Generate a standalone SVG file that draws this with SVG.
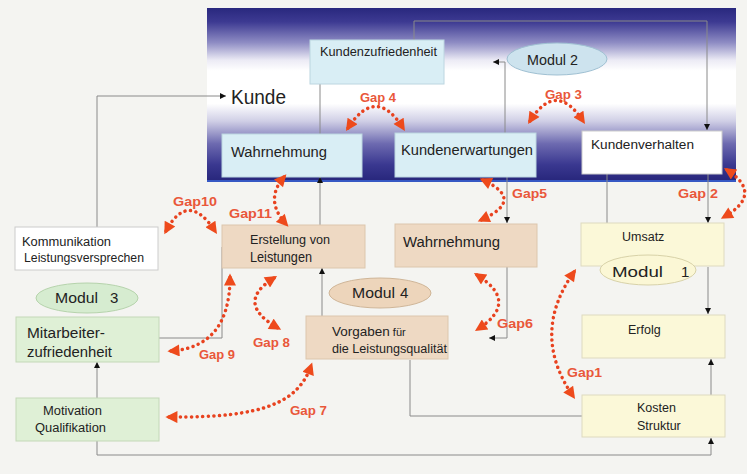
<svg xmlns="http://www.w3.org/2000/svg" width="747" height="474" viewBox="0 0 747 474">
<defs>
<linearGradient id="pg" x1="0" y1="0" x2="0" y2="1">
<stop offset="0" stop-color="#29287e"/>
<stop offset="0.08" stop-color="#3d3a92"/>
<stop offset="0.2" stop-color="#8f8dc4"/>
<stop offset="0.3" stop-color="#ecebf5"/>
<stop offset="0.36" stop-color="#ffffff"/>
<stop offset="0.55" stop-color="#ffffff"/>
<stop offset="0.65" stop-color="#d0cfe6"/>
<stop offset="0.78" stop-color="#6d6ab0"/>
<stop offset="0.9" stop-color="#3a3890"/>
<stop offset="1" stop-color="#26257a"/>
</linearGradient>
<marker id="a" viewBox="0 0 10 10" refX="10" refY="5" markerWidth="7" markerHeight="6" markerUnits="userSpaceOnUse" orient="auto">
<path d="M0,0 L10,5 L0,10 z" fill="#111"/>
</marker>
<marker id="g" viewBox="0 0 10 10" refX="7" refY="5" markerWidth="14" markerHeight="12" markerUnits="userSpaceOnUse" orient="auto-start-reverse">
<path d="M0,0 L10,5 L0,10 z" fill="#ee4a1c"/>
</marker>
<style>
text{font-family:"Liberation Sans",Arial,sans-serif;fill:#222;}
.s{font-size:12.5px;}
.m{font-size:14px;}
.mo{font-size:15px;}
.gl{font-size:13px;font-weight:bold;fill:#e9573a;}
.c{fill:none;stroke:#8a8a8a;stroke-width:1;}
.gp{fill:none;stroke:#e8421f;stroke-width:3.5;stroke-dasharray:0.1 5.5;stroke-linecap:round;}
.bl{fill:#d9eef5;stroke:#bcd6e0;stroke-width:1;}
.wh{fill:#ffffff;stroke:#cccccc;stroke-width:1;}
.tn{fill:#eed9c3;stroke:#dcc6ad;stroke-width:1;}
.yl{fill:#fbf8d8;stroke:#dedac0;stroke-width:1;}
.gr{fill:#dff0d6;stroke:#c3d8b8;stroke-width:1;}
</style>
</defs>
<rect x="0" y="0" width="747" height="474" fill="#f4f4f1"/>
<g id="panel">
<rect x="207" y="8" width="529" height="174" fill="url(#pg)"/>
<line x1="207" y1="181" x2="736" y2="181" stroke="#3658c4" stroke-width="2"/>
</g>
<g id="connectors">
<path class="c" d="M97,227 V96 H226" marker-end="url(#a)"/>
<path class="c" d="M320,134 V64 H335" marker-end="url(#a)"/>
<path class="c" d="M505,133 V62 H493" marker-end="url(#a)"/>
<path class="c" d="M414,40 V21 H707 V130" marker-end="url(#a)"/>
<path class="c" d="M320,225 V177" marker-end="url(#a)"/>
<path class="c" d="M630,153 H607 V246 H585" marker-end="url(#a)"/>
<path class="c" d="M708,174 V223" marker-end="url(#a)"/>
<path class="c" d="M507,177 V223" marker-end="url(#a)"/>
<path class="c" d="M507,267 V338 H489" marker-end="url(#a)"/>
<path class="c" d="M708,267 V314" marker-end="url(#a)"/>
<path class="c" d="M711,395 V359" marker-end="url(#a)"/>
<path class="c" d="M97,440 V455 H711 V438" marker-end="url(#a)"/>
<path class="c" d="M410,360 V416 H631" marker-end="url(#a)"/>
<path class="c" d="M97,398 V362" marker-end="url(#a)"/>
<path class="c" d="M159,338 H222 V247 H241" marker-end="url(#a)"/>
<path class="c" d="M333,338 H322 V268" marker-end="url(#a)"/>
</g>
<g id="n-kundenzufriedenheit"><rect class="bl" x="310" y="40" width="134" height="44"/><text class="s" x="320" y="56" textLength="117" lengthAdjust="spacingAndGlyphs">Kundenzufriedenheit</text></g>
<g id="n-modul2"><ellipse cx="557" cy="59" rx="50" ry="16" fill="#cde3ee" stroke="#9fc0d2"/><text class="mo" x="527" y="65" textLength="51" lengthAdjust="spacingAndGlyphs">Modul 2</text></g>
<g id="n-kunde"><text x="231" y="104" font-size="20" textLength="55" lengthAdjust="spacingAndGlyphs">Kunde</text></g>
<g id="n-wahrnehmung1"><rect class="bl" x="222" y="134" width="140" height="43"/><text class="m" x="231" y="157" textLength="96" lengthAdjust="spacingAndGlyphs">Wahrnehmung</text></g>
<g id="n-kundenerwartungen"><rect class="bl" x="395" y="133" width="141" height="44"/><text class="m" x="401" y="155" textLength="132" lengthAdjust="spacingAndGlyphs">Kundenerwartungen</text></g>
<g id="n-kundenverhalten"><rect class="wh" x="582" y="131" width="140" height="43"/><text x="591" y="149" font-size="12.5" textLength="103" lengthAdjust="spacingAndGlyphs">Kundenverhalten</text></g>
<g id="n-kommunikation"><rect class="wh" x="15" y="227" width="143" height="43"/><text class="s" x="22" y="246" textLength="89" lengthAdjust="spacingAndGlyphs">Kommunikation</text><text class="s" x="24" y="262" textLength="120" lengthAdjust="spacingAndGlyphs">Leistungsversprechen</text></g>
<g id="n-erstellung"><rect class="tn" x="222" y="225" width="143" height="43"/><text class="s" x="250" y="244" textLength="80" lengthAdjust="spacingAndGlyphs">Erstellung  von</text><text class="m" x="250" y="262" textLength="62" lengthAdjust="spacingAndGlyphs">Leistungen</text></g>
<g id="n-wahrnehmung2"><rect class="tn" x="395" y="224" width="142" height="43"/><text class="m" x="403" y="247" textLength="97" lengthAdjust="spacingAndGlyphs">Wahrnehmung</text></g>
<g id="n-umsatz"><rect class="yl" x="581" y="223" width="143" height="43"/><text class="s" x="622" y="241">Umsatz</text></g>
<g id="n-modul1"><ellipse cx="648" cy="270" rx="48" ry="15" fill="#fbf7d5" stroke="#d8d2a8"/><text class="mo" x="612" y="277" textLength="51" lengthAdjust="spacingAndGlyphs">Modul</text><text class="mo" x="681" y="277">1</text></g>
<g id="n-modul3"><ellipse cx="87" cy="298" rx="51" ry="15" fill="#d6ecd0" stroke="#b5d3ab"/><text class="mo" x="55" y="303" textLength="43" lengthAdjust="spacingAndGlyphs">Modul</text><text class="mo" x="110" y="303">3</text></g>
<g id="n-modul4"><ellipse cx="380" cy="293" rx="51" ry="15" fill="#edd5bb" stroke="#cfb597"/><text class="mo" x="352" y="298" textLength="43" lengthAdjust="spacingAndGlyphs">Modul</text><text class="mo" x="400" y="298">4</text></g>
<g id="n-mitarbeiter"><rect class="gr" x="16" y="317" width="143" height="45"/><text class="m" x="27" y="338" textLength="78" lengthAdjust="spacingAndGlyphs">Mitarbeiter-</text><text class="m" x="27" y="357" textLength="85" lengthAdjust="spacingAndGlyphs">zufriedenheit</text></g>
<g id="n-vorgaben"><rect class="tn" x="306" y="316" width="142" height="43"/><text x="332" y="336"><tspan font-size="13.5">Vorgaben</tspan><tspan font-size="11"> für</tspan></text><text class="s" x="332" y="353" textLength="115" lengthAdjust="spacingAndGlyphs">die Leistungsqualität</text></g>
<g id="n-erfolg"><rect class="yl" x="582" y="315" width="143" height="43"/><text class="s" x="628" y="334">Erfolg</text></g>
<g id="n-motivation"><rect class="gr" x="16" y="398" width="143" height="43"/><text class="s" x="43" y="415" textLength="59" lengthAdjust="spacingAndGlyphs">Motivation</text><text class="s" x="35" y="432" textLength="71" lengthAdjust="spacingAndGlyphs">Qualifikation</text></g>
<g id="n-kosten"><rect class="yl" x="582" y="395" width="143" height="42"/><text class="s" x="637" y="412">Kosten</text><text class="s" x="637" y="430">Struktur</text></g>
<g id="gaps">
<path class="gp" d="M348,128 Q376,85 403,128" marker-start="url(#g)" marker-end="url(#g)"/>
<path class="gp" d="M530,121 Q556,80 583,121" marker-start="url(#g)" marker-end="url(#g)"/>
<path class="gp" d="M166,231 Q188,190 215,231" marker-start="url(#g)" marker-end="url(#g)"/>
<path class="gp" d="M284,177 Q264,200 286,224" marker-start="url(#g)" marker-end="url(#g)"/>
<path class="gp" d="M483,180 Q526,200 481,220" marker-start="url(#g)" marker-end="url(#g)"/>
<path class="gp" d="M727,170 Q764,194 724,217" marker-start="url(#g)" marker-end="url(#g)"/>
<path class="gp" d="M477,275 Q520,302 478,329" marker-start="url(#g)" marker-end="url(#g)"/>
<path class="gp" d="M574,272 Q530,334 573,396" marker-start="url(#g)" marker-end="url(#g)"/>
<path class="gp" d="M274,278 Q234,303 278,328" marker-start="url(#g)" marker-end="url(#g)"/>
<path class="gp" d="M171,351 Q230,347 230,277" marker-start="url(#g)" marker-end="url(#g)"/>
<path class="gp" d="M169,417 C265,418 298,402 311,366" marker-start="url(#g)" marker-end="url(#g)"/>
</g>
<g id="gap-labels">
<text class="gl" x="173" y="206" textLength="44" lengthAdjust="spacingAndGlyphs">Gap10</text>
<text class="gl" x="229" y="218" textLength="43" lengthAdjust="spacingAndGlyphs">Gap11</text>
<text class="gl" x="360" y="102" textLength="36" lengthAdjust="spacingAndGlyphs">Gap 4</text>
<text class="gl" x="545" y="99" textLength="37" lengthAdjust="spacingAndGlyphs">Gap 3</text>
<text class="gl" x="512" y="198" textLength="35" lengthAdjust="spacingAndGlyphs">Gap5</text>
<text class="gl" x="678" y="198" textLength="40" lengthAdjust="spacingAndGlyphs">Gap 2</text>
<text class="gl" x="497" y="328" textLength="36" lengthAdjust="spacingAndGlyphs">Gap6</text>
<text class="gl" x="567" y="377" textLength="35" lengthAdjust="spacingAndGlyphs">Gap1</text>
<text class="gl" x="253" y="347" textLength="37" lengthAdjust="spacingAndGlyphs">Gap 8</text>
<text class="gl" x="199" y="359" textLength="36" lengthAdjust="spacingAndGlyphs">Gap 9</text>
<text class="gl" x="290" y="415" textLength="37" lengthAdjust="spacingAndGlyphs">Gap 7</text>
</g>
</svg>
